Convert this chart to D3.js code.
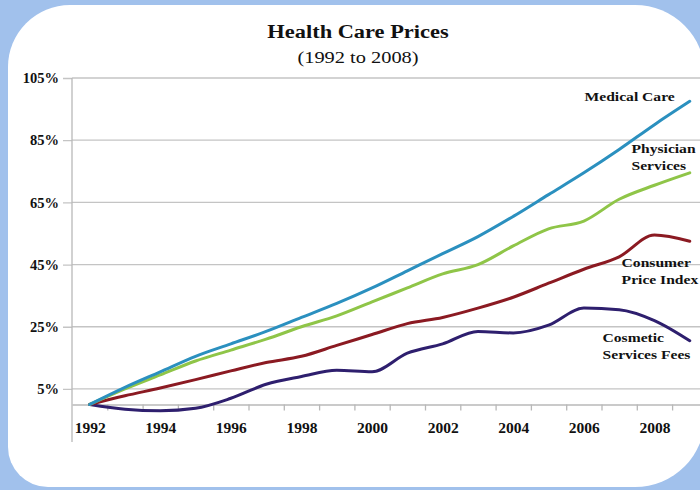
<!DOCTYPE html>
<html lang="en">
<head>
    <meta charset="UTF-8">
    <title>Health Care Prices</title>
    <style>
        html, body { margin: 0; padding: 0; background: #a1c1ec; }
        svg { display: block; }
    </style>
</head>

<body>
    <div id="graph"></div>
    <script src="https://d3js.org/d3.v7.min.js"></script>

    <script>
        // Data (cumulative price change since 1992, in %)
        const YEARS = d3.range(1992, 2010);
        const MEDICAL_CARE = [0, 5.5, 10.5, 15.5, 19.5, 23.5, 28, 32.5, 37.5, 43, 48.5, 54, 60.5, 67.5, 74.5, 82, 90, 97.5];
        const PHYSICIAN = [0, 5, 9.5, 14, 17.5, 21, 25, 28.5, 33, 37.5, 42, 45, 51, 56.5, 59, 66, 70.5, 74.5];
        const CPI = [0, 2.8, 5.3, 8, 10.8, 13.5, 15.5, 19, 22.5, 26, 28, 31, 34.5, 39, 43.5, 47.5, 54.5, 52.5];
        const COSMETIC = [0, -1.5, -2, -1.2, 2, 6.5, 9, 11, 10.5, 16.5, 19.5, 23.5, 23, 25.5, 31, 30.5, 27, 20.5];
        const Y_TICKS = [5, 25, 45, 65, 85, 105];
        const X_LABELS = [1992, 1994, 1996, 1998, 2000, 2002, 2004, 2006, 2008];

        const SERIES = [
            { name: "Cosmetic", values: COSMETIC, color: "#2e1f6e", label: ["Cosmetic", "Services Fees"], at: [2006.53, 20.1] },
            { name: "CPI", values: CPI, color: "#8b1a22", label: ["Consumer", "Price Index"], at: [2007.07, 44.2] },
            { name: "Physician", values: PHYSICIAN, color: "#8fc548", label: ["Physician", "Services"], at: [2007.35, 80.9] },
            { name: "Medical", values: MEDICAL_CARE, color: "#2b90bf", label: ["Medical Care"], at: [2006.02, 97.6] }
        ];

        const WIDTH = 700;
        const HEIGHT = 490;
        const LEFT = 72;
        const RIGHT = 707.4;
        const TOP = 78;
        const BOTTOM = 404.5;
        const FONT = "'Liberation Serif', 'Times New Roman', serif";

        const x = d3.scaleLinear()
            .domain([1991.5, 2009.5])
            .range([LEFT, RIGHT]);

        const y = d3.scaleLinear()
            .domain([0, 105])
            .range([BOTTOM, TOP]);

        const svg = d3.select("#graph")
            .append("svg")
            .attr("width", WIDTH)
            .attr("height", HEIGHT);

        // white rounded panel
        function panelPath(x0, y0, x1, y1, tl, tr, br, bl) {
            return `M${x0 + tl},${y0} H${x1 - tr} A${tr},${tr} 0 0 1 ${x1},${y0 + tr}` +
                ` V${y1 - br} A${br},${br} 0 0 1 ${x1 - br},${y1}` +
                ` H${x0 + bl} A${bl},${bl} 0 0 1 ${x0},${y1 - bl}` +
                ` V${y0 + tl} A${tl},${tl} 0 0 1 ${x0 + tl},${y0} Z`;
        }
        const pd = panelPath(8, 5, 705, 487, 62, 70, 70, 40);
        svg.append("clipPath").attr("id", "panel-clip").append("path").attr("d", pd);
        svg.append("path").attr("d", pd).attr("fill", "#ffffff");

        const chart = svg.append("g").attr("clip-path", "url(#panel-clip)");

        // horizontal gridlines
        chart.selectAll("line.grid")
            .data(Y_TICKS)
            .enter()
            .append("line")
            .attr("class", "grid")
            .attr("x1", LEFT)
            .attr("x2", RIGHT)
            .attr("y1", d => y(d))
            .attr("y2", d => y(d))
            .attr("stroke", "#c4c4c4")
            .attr("stroke-width", 1.3);

        // y axis
        const yAxis = chart.append("g")
            .attr("transform", `translate(${LEFT},0)`)
            .call(d3.axisLeft(y).tickValues(Y_TICKS).tickSize(9).tickPadding(4).tickFormat(d => d + "%"));
        yAxis.select(".domain").remove();
        yAxis.selectAll(".tick line").attr("stroke", "#c4c4c4").attr("stroke-width", 1.3);
        yAxis.selectAll(".tick text")
            .attr("font-family", FONT)
            .attr("font-weight", "bold")
            .attr("font-size", 14.5)
            .attr("fill", "#111");
        chart.append("line")
            .attr("x1", LEFT).attr("x2", LEFT)
            .attr("y1", TOP).attr("y2", 442)
            .attr("stroke", "#b8b8b8")
            .attr("stroke-width", 1.3);

        // x axis: ticks between categories, labels on categories
        const xTicks = chart.append("g")
            .attr("transform", `translate(0,${BOTTOM})`)
            .call(d3.axisBottom(x).tickValues(d3.range(1992.5, 2009.5, 1)).tickSize(6).tickSizeOuter(0).tickFormat(""));
        xTicks.select(".domain").attr("stroke", "#b8b8b8").attr("stroke-width", 1.3);
        xTicks.selectAll(".tick line").attr("stroke", "#b8b8b8").attr("stroke-width", 1.3);

        const xLabels = chart.append("g")
            .attr("transform", `translate(0,${BOTTOM})`)
            .call(d3.axisBottom(x).tickValues(X_LABELS).tickSize(0).tickPadding(17).tickFormat(d3.format("d")));
        xLabels.select(".domain").remove();
        xLabels.selectAll(".tick text")
            .attr("font-family", FONT)
            .attr("font-weight", "bold")
            .attr("font-size", 15.5)
            .attr("fill", "#111");

        // lines
        const line = d3.line()
            .x((d, i) => x(YEARS[i]))
            .y(d => y(d))
            .curve(d3.curveMonotoneX);

        chart.selectAll("path.series")
            .data(SERIES)
            .enter()
            .append("path")
            .attr("class", "series")
            .attr("d", d => line(d.values))
            .attr("fill", "none")
            .attr("stroke", d => d.color)
            .attr("stroke-width", 3)
            .attr("stroke-linejoin", "round")
            .attr("stroke-linecap", "round");

        // series labels
        SERIES.forEach(s => {
            s.label.forEach((t, i) => {
                chart.append("text")
                    .attr("transform", `translate(${x(s.at[0])},${y(s.at[1]) + i * 17}) scale(1.2,1)`)
                    .attr("font-family", FONT)
                    .attr("font-weight", "bold")
                    .attr("font-size", 13)
                    .attr("fill", "#111")
                    .text(t);
            });
        });

        // title
        svg.append("text")
            .attr("transform", "translate(358,38) scale(1.18,1)")
            .attr("text-anchor", "middle")
            .attr("font-family", FONT)
            .attr("font-weight", "bold")
            .attr("font-size", 19)
            .attr("fill", "#111")
            .text("Health Care Prices");

        svg.append("text")
            .attr("transform", "translate(358,63) scale(1.2,1)")
            .attr("text-anchor", "middle")
            .attr("font-family", FONT)
            .attr("font-size", 17)
            .attr("fill", "#111")
            .text("(1992 to 2008)");
    </script>
</body>
</html>
